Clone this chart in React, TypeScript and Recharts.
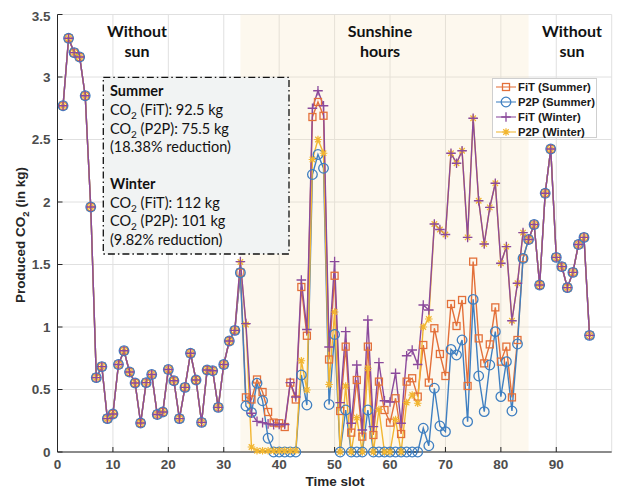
import React from "react";
import { CartesianGrid, Legend, Line, LineChart, ReferenceArea, XAxis, YAxis } from "recharts";

// slots 1-32: no sun, all four cases give the same value
const morningNoSun = [
  2.77, 3.31, 3.195, 3.16, 2.85, 1.96, 0.595, 0.683, 0.267, 0.304, 0.7, 0.81, 0.64, 0.552, 0.232, 0.555,
  0.62, 0.3, 0.32, 0.66, 0.57, 0.267, 0.517, 0.79, 0.576, 0.237, 0.656, 0.65, 0.357, 0.7, 0.888, 0.973,
];
// slots 85-96: no sun again
const eveningNoSun = [1.7, 1.82, 1.336, 2.07, 2.424, 1.557, 1.483, 1.315, 1.437, 1.66, 1.717, 0.933];

// slots 33-84 (sunshine hours)
const fitSummerSun = [
  1.435, 0.437, 0.42, 0.58, 0.48, 0.32, 0.235, 0.23, 0.2, 0.555,
  0.42, 1.32, 0.93, 2.68, 2.8, 2.69, 0.74, 1.41, 0.328, 0.843,
  0.155, 0.576, 0.123, 0.843, 0.136, 0.563, 0.336, 0.235, 0.43, 0.144,
  0.563, 0.59, 0.443, 0.856, 0.555, 0.99, 0.784, 0.608, 1.184, 1.008,
  1.216, 0.528, 1.523, 0.909, 0.709, 0.861, 1.157, 0.723, 0.843, 0.437,
  0.896, 1.549,
];
const p2pSummerSun = [
  1.435, 0.368, 0.317, 0.55, 0.41, 0.11, 0, 0, 0, 0,
  0, 0.616, 0.376, 2.22, 2.38, 2.27, 0.38, 0.94, 0, 0.336,
  0, 0, 0, 0.336, 0, 0, 0, 0, 0, 0,
  0, 0, 0, 0.19, 0.05, 0.51, 0.208, 0.163, 0.821, 0.776,
  0.896, 0.243, 1.221, 0.608, 0.323, 0.696, 0.963, 0.443, 0.723, 0.328,
  0.864, 1.549,
];
const fitWinterSun = [
  1.523, 1.027, 0.31, 0.245, 0.235, 0.225, 0.218, 0.22, 0.22, 0.555,
  0.44, 1.376, 0.98, 2.75, 2.89, 2.77, 0.84, 1.523, 0.395, 0.963,
  0.23, 0.696, 0.176, 1.056, 0.203, 0.715, 0.41, 0.4, 0.63, 0.23,
  0.77, 0.816, 0.7, 1.176, 1.136, 1.824, 1.78, 1.74, 2.39, 2.31,
  2.41, 1.717, 2.67, 2.01, 1.664, 1.957, 2.15, 1.51, 1.643, 1.05,
  1.35, 1.755,
];
const p2pWinterSun = [
  1.52, 1.02, 0.04, 0.01, 0.01, 0.01, 0.01, 0.01, 0.01, 0.01,
  0.01, 0.73, 0.496, 2.34, 2.5, 2.39, 0.54, 1.12, 0, 0.528,
  0, 0.275, 0, 0.67, 0, 0.34, 0, 0, 0.26, 0,
  0.395, 0.456, 0.39, 1.0, 1.064, 1.824, 1.78, 1.74, 2.39, 2.31,
  2.41, 1.717, 2.67, 2.01, 1.664, 1.957, 2.15, 1.51, 1.643, 1.05,
  1.35, 1.755,
];

const xTicks = [0, 10, 20, 30, 40, 50, 60, 70, 80, 90];
const yTicks = [0, 0.5, 1, 1.5, 2, 2.5, 3, 3.5];
const sunStart = 33;
const sunEnd = 85;

const ORANGE = "#E3703A";
const BLUE = "#3F7FC1";
const PURPLE = "#8B4A9C";
const YELLOW = "#F2B631";

const full = (sun: number[]) => [...morningNoSun, ...sun, ...eveningNoSun];
const fitSummer = full(fitSummerSun);
const p2pSummer = full(p2pSummerSun);
const fitWinter = full(fitWinterSun);
const p2pWinter = full(p2pWinterSun);

const data = fitSummer.map((v, i) => ({
  slot: i + 1,
  fitSummer: v,
  p2pSummer: p2pSummer[i],
  fitWinter: fitWinter[i],
  p2pWinter: p2pWinter[i],
}));

type Marker = "square" | "circle" | "plus" | "star";

function markerShape(kind: Marker, cx: number, cy: number, color: string, key?: string) {
  if (kind === "square")
    return <rect key={key} x={cx - 3.5} y={cy - 3.5} width={7} height={7} fill="none" stroke={color} strokeWidth={1.3} />;
  if (kind === "circle")
    return <circle key={key} cx={cx} cy={cy} r={4.8} fill="none" stroke={color} strokeWidth={1.3} />;
  if (kind === "plus")
    return (
      <path key={key} d={`M${cx - 4.8},${cy}h9.6M${cx},${cy - 4.8}v9.6`} stroke={color} strokeWidth={1.3} fill="none" />
    );
  const r = 3.8;
  const d = r * 0.72;
  return (
    <path
      key={key}
      d={`M${cx - r},${cy}h${2 * r}M${cx},${cy - r}v${2 * r}M${cx - d},${cy - d}l${2 * d},${2 * d}M${cx - d},${cy + d}l${2 * d},${-2 * d}`}
      stroke={color}
      strokeWidth={1.2}
      fill="none"
    />
  );
}

const dotFor = (kind: Marker, color: string) => (p: any) =>
  markerShape(kind, p.cx, p.cy, color, `${kind}-${p.index}`);

const legendItems: { name: string; color: string; marker: Marker }[] = [
  { name: "FiT (Summer)", color: ORANGE, marker: "square" },
  { name: "P2P (Summer)", color: BLUE, marker: "circle" },
  { name: "FiT (Winter)", color: PURPLE, marker: "plus" },
  { name: "P2P (Winter)", color: YELLOW, marker: "star" },
];

function LegendBox() {
  return (
    <div
      style={{
        background: "#fff",
        border: "1px solid #CFCFCF",
        width: 105,
        height: 60,
        paddingTop: 1,
        boxSizing: "border-box",
      }}
    >
      {legendItems.map((it) => (
        <div key={it.name} style={{ display: "flex", alignItems: "center", height: 14.8 }}>
          <svg width={25} height={12} style={{ flex: "none" }}>
            <line x1={3} x2={23} y1={6} y2={6} stroke={it.color} strokeWidth={1.3} opacity={0.8} />
            {markerShape(it.marker, 13, 6, it.color)}
          </svg>
          <span
            style={{
              fontFamily: "'Liberation Sans', Arial, sans-serif",
              fontWeight: 700,
              fontSize: 11.3,
              color: "#1A1A1A",
              whiteSpace: "nowrap",
            }}
          >
            {it.name}
          </span>
        </div>
      ))}
    </div>
  );
}

const tickStyle = { fill: "#4D4D4D", fontSize: 13.5, fontWeight: 700, fontFamily: "'Liberation Sans', Arial, sans-serif" };
const noteFont = "Lato, 'Noto Sans', sans-serif";

function Co2({ x, y, rest }: { x: number; y: number; rest: string }) {
  return (
    <text x={x} y={y} fontFamily={noteFont} fontSize={14.5} fill="#111">
      CO
      <tspan dy={4} fontSize={10}>
        2
      </tspan>
      <tspan dy={-4}>{rest}</tspan>
    </text>
  );
}

export default function App() {
  const W = 613;
  const H = 480;
  return (
    <div style={{ position: "relative", width: W, height: H }}>
      <LineChart width={W} height={H} data={data} margin={{ top: 6.5, right: 9.3, bottom: 6, left: 9.5 }}>
        <CartesianGrid stroke="#E0E0E0" strokeWidth={1} />
        <ReferenceArea x1={sunStart} x2={sunEnd} y1={0} y2={3.5} fill="#F6E3BD" fillOpacity={0.25} stroke="none" />
        <XAxis
          dataKey="slot"
          type="number"
          domain={[0, 100]}
          ticks={xTicks}
          height={30}
          stroke="#262626"
          tickSize={-5}
          tickMargin={12}
          tick={tickStyle}
          allowDataOverflow
        />
        <XAxis xAxisId="top" orientation="top" type="number" domain={[0, 100]} ticks={xTicks} height={0} stroke="#262626" tickSize={-5} tick={false} />
        <YAxis
          domain={[0, 3.5]}
          ticks={yTicks}
          width={40}
          stroke="#262626"
          tickSize={-5}
          tickMargin={12}
          tick={tickStyle}
          tickFormatter={(v: number) => `${v}`}
        />
        <YAxis yAxisId="right" orientation="right" domain={[0, 3.5]} ticks={yTicks} width={0} stroke="#262626" tickSize={-5} tick={false} />
        <Legend
          layout="horizontal"
          align="center"
          verticalAlign="middle"
          content={() => <LegendBox />}
          wrapperStyle={{ position: "absolute", left: 484, top: 70, width: 105, height: 60 }}
        />
        <Line dataKey="fitSummer" name="FiT (Summer)" stroke={ORANGE} strokeWidth={1.4} dot={dotFor("square", ORANGE)} activeDot={false} isAnimationActive={false} />
        <Line dataKey="p2pSummer" name="P2P (Summer)" stroke={BLUE} strokeWidth={1.4} dot={dotFor("circle", BLUE)} activeDot={false} isAnimationActive={false} />
        <Line dataKey="p2pWinter" name="P2P (Winter)" stroke={YELLOW} strokeWidth={1.4} dot={dotFor("star", YELLOW)} activeDot={false} isAnimationActive={false} />
        <Line dataKey="fitWinter" name="FiT (Winter)" stroke={PURPLE} strokeWidth={1.4} dot={dotFor("plus", PURPLE)} activeDot={false} isAnimationActive={false} />
      </LineChart>
      <svg width={W} height={H} style={{ position: "absolute", left: 0, top: 0, pointerEvents: "none" }}>
        <g fontFamily={noteFont} fontWeight={700} fontSize={16} fill="#111" textAnchor="middle">
          <text x={129} y={28.7}>Without</text>
          <text x={129} y={48.7}>sun</text>
          <text x={372} y={28.7}>Sunshine</text>
          <text x={372} y={48.7}>hours</text>
          <text x={564} y={28.7}>Without</text>
          <text x={564} y={48.7}>sun</text>
        </g>
        <rect x={95.3} y={69.3} width={185.7} height={176.7} fill="#F1F3F3" stroke="#111" strokeWidth={1.3} strokeDasharray="7 3 1.5 3" />
        <text x={102} y={87.7} fontFamily={noteFont} fontWeight={700} fontSize={14.5} fill="#111">Summer</text>
        <Co2 x={102} y={107} rest=" (FiT): 92.5 kg" />
        <Co2 x={102} y={125.5} rest=" (P2P): 75.5 kg" />
        <text x={102} y={144} fontFamily={noteFont} fontSize={14.5} fill="#111">(18.38% reduction)</text>
        <text x={102} y={181} fontFamily={noteFont} fontWeight={700} fontSize={14.5} fill="#111">Winter</text>
        <Co2 x={102} y={199.5} rest=" (FiT): 112 kg" />
        <Co2 x={102} y={218} rest=" (P2P): 101 kg" />
        <text x={102} y={236.5} fontFamily={noteFont} fontSize={14.5} fill="#111">(9.82% reduction)</text>
        <text
          transform="translate(17,227) rotate(-90)"
          textAnchor="middle"
          fontFamily="'Liberation Sans', Arial, sans-serif"
          fontWeight={700}
          fontSize={13.5}
          fill="#262626"
        >
          Produced CO
          <tspan dy={4} fontSize={9.5}>
            2
          </tspan>
          <tspan dy={-4}> (in kg)</tspan>
        </text>
        <text x={327} y={478} textAnchor="middle" fontFamily="'Liberation Sans', Arial, sans-serif" fontWeight={700} fontSize={13.5} fill="#262626">
          Time slot
        </text>
      </svg>
    </div>
  );
}
